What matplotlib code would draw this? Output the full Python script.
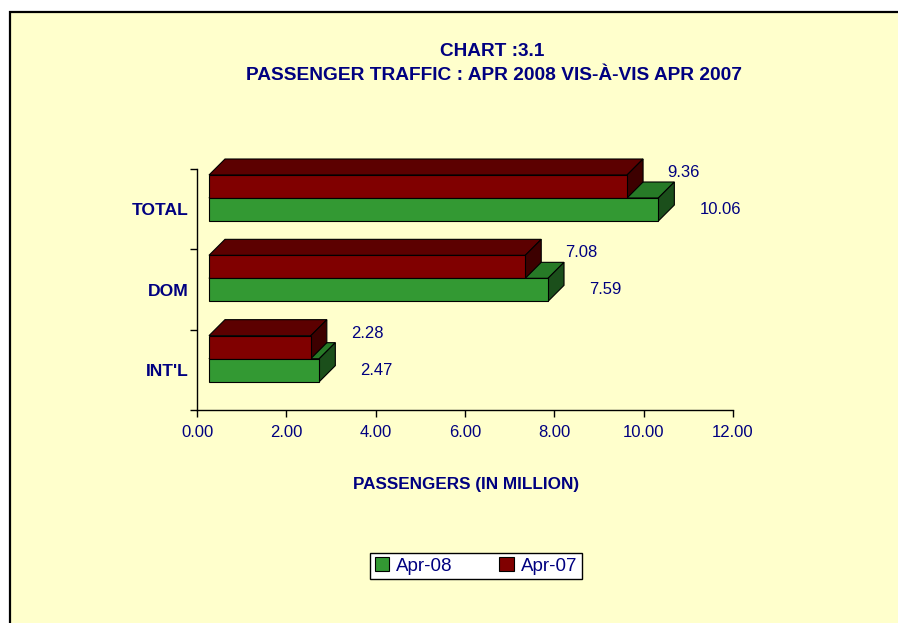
import numpy as np
import matplotlib
matplotlib.use('Agg')
import matplotlib.pyplot as plt
from matplotlib.patches import Polygon, Rectangle, Patch

plt.rcParams['font.family'] = ['Liberation Sans', 'DejaVu Sans']

# data
categories = ["INT'L", "DOM", "TOTAL"]
apr08 = [2.47, 7.59, 10.06]
apr07 = [2.28, 7.08, 9.36]
series_names = ['Apr-08', 'Apr-07']
xticks = [0, 2, 4, 6, 8, 10, 12]

navy = '#000080'
green = ['#339933', '#277a27', '#1b4f1b']   # front, top, side
red = ['#800000', '#5c0000', '#3d0000']

W, H = 898, 623
fig = plt.figure(figsize=(W / 100, H / 100), dpi=100)
fig.patch.set_facecolor('white')
bg = Rectangle((10 / W, -0.02), 1.0, 1 - 12 / H + 0.02,
               transform=fig.transFigure, facecolor='#FFFFCC',
               edgecolor='black', lw=1.6, zorder=-5)
fig.patches.append(bg)

ax = fig.add_axes([197 / W, 1 - 410 / H, 536 / W, 241 / H])
ax.set_zorder(2)
ax.set_facecolor('none')
ax.set_xlim(0, 12)
ax.set_ylim(0, 3)

# pixel -> data helpers
px_x = 12 / 536
px_y = 3 / 241
dx, dy = 16 * px_x, 16 * px_y
x_front = 12 * px_x
bar_h = 23 * px_y
gap_top = 6 * px_y


def box(x0, x1, yb, yt, cols):
    front = [(x0, yb), (x1, yb), (x1, yt), (x0, yt)]
    top = [(x0, yt), (x1, yt), (x1 + dx, yt + dy), (x0 + dx, yt + dy)]
    side = [(x1, yb), (x1 + dx, yb + dy), (x1 + dx, yt + dy), (x1, yt)]
    out = {}
    for name, pts, c in (('top', top, cols[1]), ('side', side, cols[2]), ('front', front, cols[0])):
        out[name] = Polygon(pts, closed=True, facecolor=c, edgecolor='black',
                            lw=0.8, clip_on=False)
    return out


for i, cat in enumerate(categories):
    r_top = i + 1 - gap_top
    r_bot = r_top - bar_h
    g_top = r_bot
    g_bot = g_top - bar_h
    r_end = x_front + apr07[i]
    g_end = x_front + apr08[i]
    g = box(x_front, g_end, g_bot, g_top, green)
    r = box(x_front, r_end, r_bot, r_top, red)
    g['top'].set_zorder(3)
    ax.add_patch(g['top'])
    for k in ('top', 'side', 'front'):
        r[k].set_zorder(4)
        ax.add_patch(r[k])
    g['side'].set_zorder(5)
    g['front'].set_zorder(5)
    ax.add_patch(g['side'])
    ax.add_patch(g['front'])

    ax.text(r_end + dx + 24 * px_x, (r_top + r_bot) / 2 + 14 * px_y, f'{apr07[i]:.2f}',
            color=navy, fontsize=12, va='center', ha='left')
    ax.text(g_end + dx + 25 * px_x, (g_top + g_bot) / 2, f'{apr08[i]:.2f}',
            color=navy, fontsize=12, va='center', ha='left')

for s in ('top', 'right'):
    ax.spines[s].set_visible(False)
ax.spines['left'].set_linewidth(1)
ax.spines['bottom'].set_linewidth(1)

ax.set_xticks(xticks)
ax.set_xticklabels([f'{v:.2f}' for v in xticks])
ax.set_yticks([0, 1, 2, 3])
ax.set_yticklabels([])
ax.set_yticks([0.5, 1.5, 2.5], minor=True)
ax.set_yticklabels(categories, minor=True, fontweight='bold')
ax.tick_params(axis='both', which='major', direction='out', length=5, width=1,
               color='black', labelcolor=navy, labelsize=12)
ax.tick_params(axis='x', pad=6)
ax.tick_params(axis='y', which='minor', length=0, pad=6, labelcolor=navy, labelsize=12.6)

fig.text(492 / W, 1 - 52 / H, 'CHART :3.1', ha='center', va='center',
         color=navy, fontsize=13.7, fontweight='bold')
fig.text(494 / W, 1 - 76 / H, 'PASSENGER TRAFFIC : APR 2008 VIS-À-VIS APR 2007',
         ha='center', va='center', color=navy, fontsize=13.8, fontweight='bold')
fig.text(466 / W, 1 - 484 / H, 'PASSENGERS (IN MILLION)', ha='center', va='center',
         color=navy, fontsize=12.3, fontweight='bold')

handles = [Patch(facecolor=green[0], edgecolor='black', lw=0.8),
           Patch(facecolor=red[0], edgecolor='black', lw=0.8)]
leg = fig.legend(handles, series_names, loc='center', ncol=2,
                 bbox_to_anchor=(476 / W, 1 - 566 / H), frameon=True, fancybox=False,
                 edgecolor='black', facecolor='white', framealpha=1,
                 fontsize=13.5, handlelength=0.75, handleheight=0.75,
                 handletextpad=0.4, columnspacing=2.5, borderpad=0.22)
leg.get_frame().set_linewidth(1)
for t in leg.get_texts():
    t.set_color(navy)

fig.savefig('out.png', dpi=100, facecolor=fig.get_facecolor())
